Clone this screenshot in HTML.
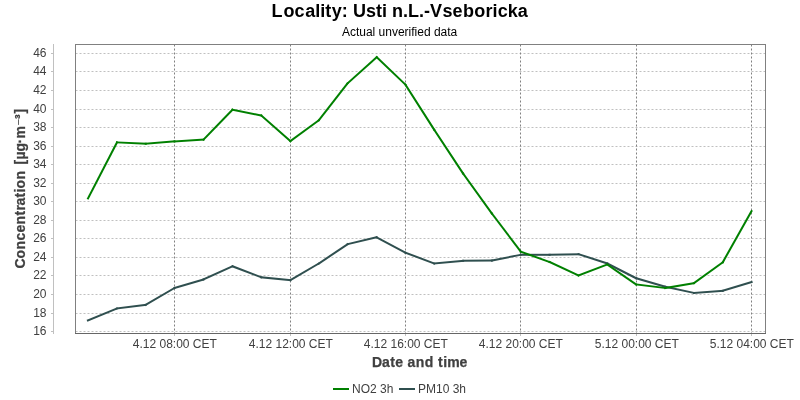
<!DOCTYPE html>
<html lang="en">
<head>
<meta charset="utf-8">
<title>Locality: Usti n.L.-Vseboricka</title>
<style>
html,body{margin:0;padding:0;background:#fff;}
body{width:800px;height:400px;overflow:hidden;}
svg{display:block;}
text{font-family:"Liberation Sans",sans-serif;}
.t{font-size:12px;fill:#404040;}
.b{font-size:14px;font-weight:bold;fill:#404040;stroke:#404040;stroke-width:0.25px;}
</style>
</head>
<body>
<svg width="800" height="400" viewBox="0 0 800 400">
<rect x="0" y="0" width="800" height="400" fill="#ffffff"/>
<text x="271.5 283.5 294.5 305.2 315.2 320.2 325.2 331.8 341.8 347.8 353.1 366.1 376.1 382.1 387.1 392.1 403.1 408.1 419.1 424.1 430.1 442.5 452.6 462.9 474.2 485.5 492.6 497.8 507.8 517.8" y="17" style="font-size:18px;font-weight:bold;fill:#000">Locality: Usti n.L.-Vseboricka</text>
<text x="399.6" y="36" text-anchor="middle" style="font-size:12px;fill:#000">Actual unverified data</text>

<g stroke="#c0c0c0" stroke-width="1" stroke-dasharray="2 2" fill="none">
<line x1="75.5" y1="53.5" x2="765.5" y2="53.5"/>
<line x1="75.5" y1="71.5" x2="765.5" y2="71.5"/>
<line x1="75.5" y1="90.5" x2="765.5" y2="90.5"/>
<line x1="75.5" y1="109.5" x2="765.5" y2="109.5"/>
<line x1="75.5" y1="127.5" x2="765.5" y2="127.5"/>
<line x1="75.5" y1="146.5" x2="765.5" y2="146.5"/>
<line x1="75.5" y1="164.5" x2="765.5" y2="164.5"/>
<line x1="75.5" y1="183.5" x2="765.5" y2="183.5"/>
<line x1="75.5" y1="201.5" x2="765.5" y2="201.5"/>
<line x1="75.5" y1="220.5" x2="765.5" y2="220.5"/>
<line x1="75.5" y1="238.5" x2="765.5" y2="238.5"/>
<line x1="75.5" y1="257.5" x2="765.5" y2="257.5"/>
<line x1="75.5" y1="275.5" x2="765.5" y2="275.5"/>
<line x1="75.5" y1="294.5" x2="765.5" y2="294.5"/>
<line x1="75.5" y1="313.5" x2="765.5" y2="313.5"/>
<line x1="75.5" y1="331.5" x2="765.5" y2="331.5"/>
</g>
<g stroke="#808080" stroke-width="1" stroke-dasharray="2 2" fill="none">
<line x1="174.5" y1="44.5" x2="174.5" y2="333.5"/>
<line x1="290.5" y1="44.5" x2="290.5" y2="333.5"/>
<line x1="405.5" y1="44.5" x2="405.5" y2="333.5"/>
<line x1="520.5" y1="44.5" x2="520.5" y2="333.5"/>
<line x1="636.5" y1="44.5" x2="636.5" y2="333.5"/>
<line x1="751.5" y1="44.5" x2="751.5" y2="333.5"/>
</g>
<g fill="none" stroke="#2f4f4f" stroke-width="2" stroke-linecap="square" transform="translate(0 0.4)">
<line x1="87.9" y1="320" x2="116.9" y2="308.1"/>
<line x1="116.9" y1="308.1" x2="145.6" y2="304.4"/>
<line x1="145.6" y1="304.4" x2="174.5" y2="287.6"/>
<line x1="174.5" y1="287.6" x2="203.4" y2="279.1"/>
<line x1="203.4" y1="279.1" x2="232.5" y2="265.9"/>
<line x1="232.5" y1="265.9" x2="261.25" y2="276.9"/>
<line x1="261.25" y1="276.9" x2="290.4" y2="279.75"/>
<line x1="290.4" y1="279.75" x2="318.8" y2="263.1"/>
<line x1="318.8" y1="263.1" x2="347.7" y2="243.75"/>
<line x1="347.7" y1="243.75" x2="376.6" y2="236.9"/>
<line x1="376.6" y1="236.9" x2="405.4" y2="252.25"/>
<line x1="405.4" y1="252.25" x2="434.3" y2="263.1"/>
<line x1="434.3" y1="263.1" x2="463.1" y2="260.4"/>
<line x1="463.1" y1="260.4" x2="491.9" y2="260.1"/>
<line x1="491.9" y1="260.1" x2="520.75" y2="254.4"/>
<line x1="520.75" y1="254.4" x2="549.6" y2="254.4"/>
<line x1="549.6" y1="254.4" x2="578.5" y2="253.75"/>
<line x1="578.5" y1="253.75" x2="607.25" y2="263.1"/>
<line x1="607.25" y1="263.1" x2="636.25" y2="277.9"/>
<line x1="636.25" y1="277.9" x2="665.25" y2="286.4"/>
<line x1="665.25" y1="286.4" x2="694" y2="292.5"/>
<line x1="694" y1="292.5" x2="722.75" y2="290.4"/>
<line x1="722.75" y1="290.4" x2="751.6" y2="281.6"/>
</g>
<g fill="none" stroke="#008000" stroke-width="2" stroke-linecap="square" transform="translate(0 0.4)">
<line x1="88" y1="198" x2="117" y2="142"/>
<line x1="117" y1="142" x2="145.75" y2="143.25"/>
<line x1="145.75" y1="143.25" x2="174.5" y2="141"/>
<line x1="174.5" y1="141" x2="203.5" y2="139.25"/>
<line x1="203.5" y1="139.25" x2="232.5" y2="109.25"/>
<line x1="232.5" y1="109.25" x2="261.25" y2="115.1"/>
<line x1="261.25" y1="115.1" x2="290.4" y2="140.75"/>
<line x1="290.4" y1="140.75" x2="318.75" y2="120"/>
<line x1="318.75" y1="120" x2="347.5" y2="83"/>
<line x1="347.5" y1="83" x2="376.75" y2="56.75"/>
<line x1="376.75" y1="56.75" x2="405.5" y2="84.3"/>
<line x1="405.5" y1="84.3" x2="434.25" y2="129.4"/>
<line x1="434.25" y1="129.4" x2="463.1" y2="173.1"/>
<line x1="463.1" y1="173.1" x2="491.9" y2="213.1"/>
<line x1="491.9" y1="213.1" x2="520.75" y2="251.25"/>
<line x1="520.75" y1="251.25" x2="549.6" y2="261.6"/>
<line x1="549.6" y1="261.6" x2="578.5" y2="275.1"/>
<line x1="578.5" y1="275.1" x2="607.25" y2="264.1"/>
<line x1="607.25" y1="264.1" x2="636.25" y2="284.1"/>
<line x1="636.25" y1="284.1" x2="665.25" y2="287.6"/>
<line x1="665.25" y1="287.6" x2="694" y2="282.75"/>
<line x1="694" y1="282.75" x2="722.75" y2="261.9"/>
<line x1="722.75" y1="261.9" x2="751.55" y2="210.7"/>
</g>
<rect x="75.5" y="44.5" width="690" height="289" fill="none" stroke="#808080" stroke-width="1"/>
<g stroke="#c0c0c0" stroke-width="1" fill="none">
<line x1="53.5" y1="44" x2="53.5" y2="334"/>
<line x1="51" y1="53.5" x2="53.5" y2="53.5"/>
<line x1="51" y1="71.5" x2="53.5" y2="71.5"/>
<line x1="51" y1="90.5" x2="53.5" y2="90.5"/>
<line x1="51" y1="109.5" x2="53.5" y2="109.5"/>
<line x1="51" y1="127.5" x2="53.5" y2="127.5"/>
<line x1="51" y1="146.5" x2="53.5" y2="146.5"/>
<line x1="51" y1="164.5" x2="53.5" y2="164.5"/>
<line x1="51" y1="183.5" x2="53.5" y2="183.5"/>
<line x1="51" y1="201.5" x2="53.5" y2="201.5"/>
<line x1="51" y1="220.5" x2="53.5" y2="220.5"/>
<line x1="51" y1="238.5" x2="53.5" y2="238.5"/>
<line x1="51" y1="257.5" x2="53.5" y2="257.5"/>
<line x1="51" y1="275.5" x2="53.5" y2="275.5"/>
<line x1="51" y1="294.5" x2="53.5" y2="294.5"/>
<line x1="51" y1="313.5" x2="53.5" y2="313.5"/>
<line x1="51" y1="331.5" x2="53.5" y2="331.5"/>
</g>
<g class="t" text-anchor="end">
<text x="46.5" y="57.4">46</text>
<text x="46.5" y="75.4">44</text>
<text x="46.5" y="94.4">42</text>
<text x="46.5" y="113.4">40</text>
<text x="46.5" y="131.4">38</text>
<text x="46.5" y="150.4">36</text>
<text x="46.5" y="168.4">34</text>
<text x="46.5" y="187.4">32</text>
<text x="46.5" y="205.4">30</text>
<text x="46.5" y="224.4">28</text>
<text x="46.5" y="242.4">26</text>
<text x="46.5" y="261.4">24</text>
<text x="46.5" y="279.4">22</text>
<text x="46.5" y="298.4">20</text>
<text x="46.5" y="317.4">18</text>
<text x="46.5" y="335.4">16</text>
</g>
<line x1="75" y1="333.5" x2="766" y2="333.5" stroke="#666666" stroke-width="1"/>
<g stroke="#c0c0c0" stroke-width="1" fill="none">
<line x1="174.5" y1="334" x2="174.5" y2="336"/>
<line x1="290.5" y1="334" x2="290.5" y2="336"/>
<line x1="405.5" y1="334" x2="405.5" y2="336"/>
<line x1="520.5" y1="334" x2="520.5" y2="336"/>
<line x1="636.5" y1="334" x2="636.5" y2="336"/>
<line x1="751.5" y1="334" x2="751.5" y2="336"/>
</g>
<g class="t" text-anchor="middle">
<text x="174.8" y="347.8">4.12 08:00 CET</text>
<text x="290.8" y="347.8">4.12 12:00 CET</text>
<text x="405.8" y="347.8">4.12 16:00 CET</text>
<text x="520.8" y="347.8">4.12 20:00 CET</text>
<text x="636.8" y="347.8">5.12 00:00 CET</text>
<text x="751.8" y="347.8">5.12 04:00 CET</text>
</g>
<text class="b" x="371.9 382.08 390.224 395.314 403.458 407.53 415.674 424.836 433.998 438.07 443.16 447.232 459.448" y="366.8">Date and time</text>
<text class="b" transform="translate(25,268.4) rotate(-90)" y="0"><tspan x="0 10 19 28 36 44 53 58 63 71 76 80 89 98 104 109 117 125 130">Concentration [µg·m</tspan><tspan x="143" dy="0" style="font-family:'DejaVu Sans',sans-serif;font-weight:normal;font-size:13px">⁻</tspan><tspan x="149.4 154.9" dy="0">³]</tspan></text>
<line x1="334" y1="389" x2="348" y2="389" stroke="#008000" stroke-width="2" stroke-linecap="square"/>
<text class="t" x="352" y="392.8">NO2 3h</text>
<line x1="400" y1="389" x2="414" y2="389" stroke="#2f4f4f" stroke-width="2" stroke-linecap="square"/>
<text class="t" x="418" y="392.8">PM10 3h</text>
</svg>
</body>
</html>
